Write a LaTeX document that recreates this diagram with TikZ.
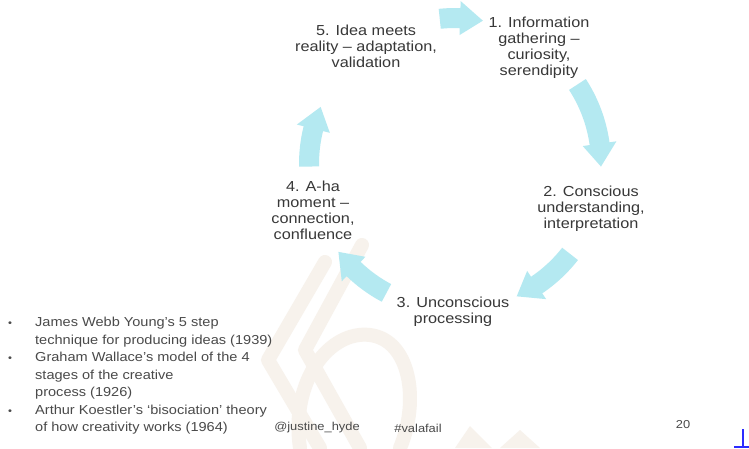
\documentclass[tikz,border=0pt]{standalone}
\usepackage{fontspec}
\setmainfont{Liberation Sans}[FakeStretch=1.12]
\usetikzlibrary{calc}
\definecolor{txt}{HTML}{383838}
\definecolor{btxt}{HTML}{4A4A4A}
\definecolor{arrfill}{HTML}{B4E9F1}
\definecolor{wm}{HTML}{F7F2EC}
\definecolor{cursorblue}{HTML}{2B2BFF}
\newcommand\cyclearrow[2]{%
  \pgfmathsetmacro\hb{#2+9}%
  \fill[arrowshape] ($(C)+(#1:156)$) arc[start angle=#1,end angle=\hb,radius=156]
    -- ($(C)+(\hb:163)$) -- ($(C)+(#2:146)$) -- ($(C)+(\hb:129)$)
    -- ($(C)+(\hb:136)$) arc[start angle=\hb,end angle=#1,radius=136] -- cycle;}
\begin{document}
\begin{tikzpicture}[x=1pt,y=1pt,
  cyc/.style={align=center,font=\fontsize{14.5}{16}\selectfont,text=txt,inner sep=0pt},
  bl/.style={anchor=base west,font=\fontsize{13}{17}\selectfont,text=btxt,inner sep=0pt},
  bul/.style={anchor=base,font=\fontsize{10}{12}\selectfont,text=btxt,inner sep=0pt},
  foot/.style={font=\fontsize{11.5}{13}\selectfont,text=btxt,inner sep=0pt},
  arrowshape/.style={fill=arrfill},
  wmstroke/.style={draw=wm,line width=14pt,line cap=round,line join=round}]
\useasboundingbox (0,0) rectangle (749,-448);
\fill[white] (0,0) rectangle (749,-448);
% faint watermark
\begin{scope}
  \draw[wmstroke] (325,-262) -- (268,-360) -- (320,-448);
  \draw[wmstroke] (362,-245) -- (305,-350) -- (360,-448);
  \draw[wmstroke] (300,-448) .. controls (290,-380) and (330,-330) .. (370,-335) .. controls (410,-340) and (420,-400) .. (400,-448);
  \fill[wm] (455,-448) -- (470,-426) -- (492,-448) -- cycle;
  \fill[wm] (500,-448) -- (520,-430) -- (540,-448) -- cycle;
\end{scope}
\coordinate (C) at (455,-164);
% cycle arrows
\cyclearrow{96}{79}
\cyclearrow{33}{-1}
\cyclearrow{-38}{-65}
\cyclearrow{-118}{-143}
\cyclearrow{181}{157}
% cycle texts
\node[cyc] (s5) at (366,-46) {5. Idea meets\\reality – adaptation,\\validation};
\node[cyc] (s1) at (539,-48) {1. Information\\gathering –\\curiosity,\\serendipity};
\node[cyc] (s2) at (591,-209) {2. Conscious\\understanding,\\interpretation};
\node[cyc] (s3) at (453,-312) {3. Unconscious\\processing};
\node[cyc] (s4) at (313,-210) {4. A-ha\\moment –\\connection,\\confluence};
% bullet list
\node[bul] (b1) at (10,-326.5) {•};
\node[bl] (l1) at (35,-326.5) {James Webb Young’s 5 step};
\node[bl] (l2) at (35,-344) {technique for producing ideas (1939)};
\node[bul] (b2) at (10,-361.5) {•};
\node[bl] (l3) at (35,-361.5) {Graham Wallace’s model of the 4};
\node[bl] (l4) at (35,-379) {stages of the creative};
\node[bl] (l5) at (35,-396.5) {process (1926)};
\node[bul] (b3) at (10,-414) {•};
\node[bl] (l6) at (35,-414) {Arthur Koestler’s ‘bisociation’ theory};
\node[bl] (l7) at (35,-431.5) {of how creativity works (1964)};
% footer
\node[foot] (f1) at (317,-428) {@justine\_hyde};
\node[foot] (f2) at (418,-428) {\#valafail};
\node[foot] (f3) at (683,-425) {20};
% cursor mark
\draw[cursorblue,line width=1.5pt] (743,-429) -- (743,-447);
\draw[cursorblue,line width=1.5pt] (734,-447) -- (749,-447);
\end{tikzpicture}
\end{document}
